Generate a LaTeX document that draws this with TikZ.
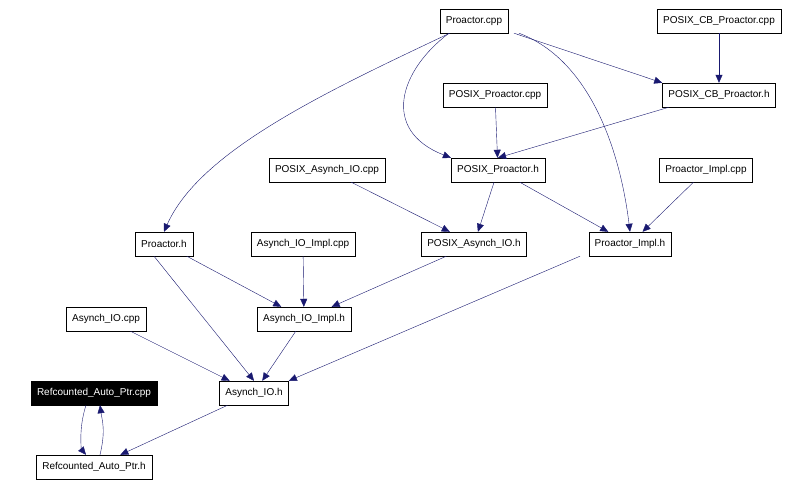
\documentclass[tikz,border=0pt]{standalone}
\usepackage{fontspec}
\setmainfont{Liberation Sans}
\usetikzlibrary{arrows.meta}
\definecolor{edge}{RGB}{25,25,112}
\begin{document}
\begin{tikzpicture}[x=1pt,y=-1pt,
 box/.style={draw=black,fill=white,minimum height=24pt,inner xsep=6pt,font=\fontsize{10}{12}\selectfont},
 e/.style={draw=edge,-{Triangle[length=8pt,width=7pt,fill=edge]}}]
\useasboundingbox (0,0) rectangle (812,488);
\node[box] (pcpp) at (474,21) {Proactor.cpp};
\node[box] (cbcpp) at (719,21) {POSIX\_CB\_Proactor.cpp};
\node[box] (ppcpp) at (495,95) {POSIX\_Proactor.cpp};
\node[box] (cbh) at (719,95) {POSIX\_CB\_Proactor.h};
\node[box] (paiocpp) at (327,170) {POSIX\_Asynch\_IO.cpp};
\node[box] (pph) at (498,170) {POSIX\_Proactor.h};
\node[box] (picpp) at (706,170) {Proactor\_Impl.cpp};
\node[box] (ph) at (164,244) {Proactor.h};
\node[box] (aiicpp) at (303,244) {Asynch\_IO\_Impl.cpp};
\node[box] (paioh) at (474,244) {POSIX\_Asynch\_IO.h};
\node[box] (pih) at (630,244) {Proactor\_Impl.h};
\node[box] (aiocpp) at (106,319) {Asynch\_IO.cpp};
\node[box] (aiih) at (304,319) {Asynch\_IO\_Impl.h};
\node[box,fill=black,text=white] (rcpp) at (94,393) {Refcounted\_Auto\_Ptr.cpp};
\node[box] (aioh) at (254,393) {Asynch\_IO.h};
\node[box] (rh) at (94,467) {Refcounted\_Auto\_Ptr.h};
\draw[e] (pcpp.south west) ++(10,0) .. controls (330,90) and (200,150) .. (ph.north);
\draw[e] (pcpp.south) ++(-25,0) .. controls (400,70) and (380,130) .. (pph.north west);
\draw[e] (pcpp.south) ++(40,0) -- (cbh.north west);
\draw[e] (pcpp.south) ++(45,0) .. controls (590,60) and (620,150) .. (pih.north);
\draw[e] (cbcpp) -- (cbh);
\draw[e] (cbh.south) ++(-50,0) -- (pph.north);
\draw[e] (ppcpp) -- (pph);
\draw[e] (pph) -- (paioh);
\draw[e] (pph) -- (pih);
\draw[e] (paiocpp) -- (paioh);
\draw[e] (picpp) -- (pih);
\draw[e] (ph) -- (aiih);
\draw[e] (ph.south) ++(-10,0) -- (aioh.north);
\draw[e] (aiicpp) -- (aiih);
\draw[e] (paioh) -- (aiih);
\draw[e] (pih.south) ++(-50,0) -- (aioh.north east);
\draw[e] (aiocpp) -- (aioh);
\draw[e] (aiih) -- (aioh);
\draw[e] (aioh) -- (rh);
\draw[e] (rcpp.south) ++(-8,0) .. controls (78,430) and (82,450) .. ([xshift=-8pt]rh.north);
\draw[e] (rh.north) ++(6,0) .. controls (106,430) and (102,420) .. ([xshift=6pt]rcpp.south);
\end{tikzpicture}
\end{document}
